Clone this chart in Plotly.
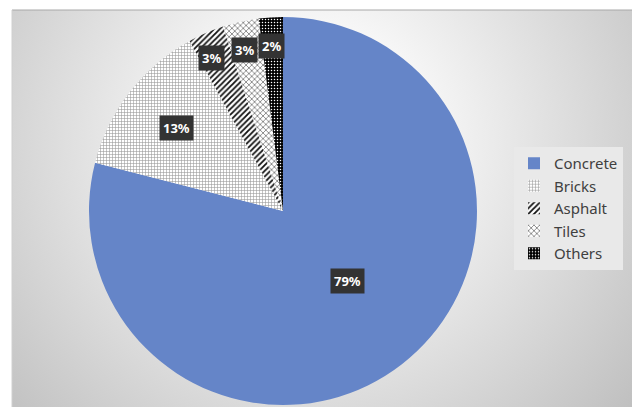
import math, base64
import plotly.graph_objects as go

categories = ["Concrete", "Bricks", "Asphalt", "Tiles", "Others"]
values = [79, 13, 3, 3, 2]
percent_labels = ["79%", "13%", "3%", "3%", "2%"]

W, H = 632, 407
cx, cy, R = 283, 211, 194  # pie centre and radius in px (layout)
label_r = [0.54, 0.81, 0.93, 0.92, 0.92]

dom_x = [(cx - R) / W, (cx + R) / W]
dom_y = [1 - (cy + R) / H, 1 - (cy - R) / H]

svg = f'''<svg xmlns="http://www.w3.org/2000/svg" width="620" height="397">
<defs><radialGradient id="g" cx="300" cy="130" r="480" gradientUnits="userSpaceOnUse">
<stop offset="0" stop-color="#ffffff"/><stop offset="0.25" stop-color="#f6f6f6"/>
<stop offset="1" stop-color="#b4b4b4"/></radialGradient></defs>
<rect width="620" height="397" fill="url(#g)"/></svg>'''
src = "data:image/svg+xml;base64," + base64.b64encode(svg.encode()).decode()

fig = go.Figure(go.Pie(
    labels=categories, values=values, sort=False, direction="clockwise", rotation=0,
    textinfo="none", hoverinfo="label+percent",
    domain=dict(x=dom_x, y=dom_y),
    marker=dict(
        colors=["#6585c8", "#ffffff", "#ffffff", "#ffffff", "#000000"],
        line=dict(width=0),
        pattern=dict(
            shape=["", "+", "/", "x", "."],
            fgcolor=["#6585c8", "#9a9a9a", "#111111", "#555555", "#ffffff"],
            bgcolor=["#6585c8", "#ffffff", "#ffffff", "#ffffff", "#000000"],
            size=[6, 3, 4, 4, 3],
            solidity=[0.5, 0.35, 0.45, 0.3, 0.2],
            fillmode="replace",
        ),
    ),
))

annotations = []
total = sum(values)
cum = 0
for v, txt, fr in zip(values, percent_labels, label_r):
    mid = (cum + v / 2) / total * 2 * math.pi
    cum += v
    px = cx + R * fr * math.sin(mid)
    py = cy - R * fr * math.cos(mid)
    annotations.append(dict(
        x=px / W, y=1 - py / H, xref="paper", yref="paper", text=f"<b>{txt}</b>",
        showarrow=False, bgcolor="#333333", borderpad=3,
        font=dict(family="Noto Sans", size=13, color="#ffffff"),
    ))

fig.update_layout(
    width=W, height=H, margin=dict(l=0, r=0, t=0, b=0),
    paper_bgcolor="#ffffff",
    images=[dict(source=src, xref="paper", yref="paper", x=12 / W, y=1 - 10 / H,
                 sizex=1 - 12 / W, sizey=1 - 10 / H, xanchor="left", yanchor="top",
                 sizing="stretch", layer="below")],
    shapes=[dict(type="line", xref="paper", yref="paper", x0=12 / W, x1=1, y0=1 - 10 / H, y1=1 - 10 / H,
                 line=dict(color="#a8a8a8", width=1)),
            dict(type="line", xref="paper", yref="paper", x0=12 / W, x1=12 / W, y0=0, y1=1 - 10 / H,
                 line=dict(color="#d0d0d0", width=1))],
    annotations=annotations,
    legend=dict(x=514 / W, y=1 - 147 / H, xanchor="left", yanchor="top",
                bgcolor="#e9e9e9", font=dict(family="Noto Sans", size=15, color="#404040"),
                itemwidth=30, itemclick=False),
    showlegend=True,
)

fig.write_html("out.html")
